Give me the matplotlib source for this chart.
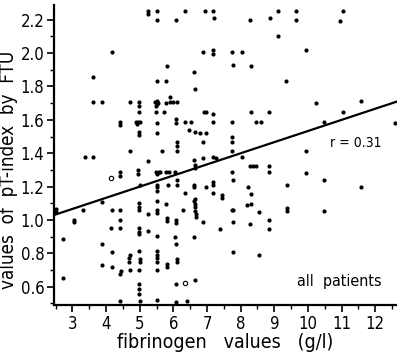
import numpy as np
import matplotlib
matplotlib.use("Agg")
import matplotlib.pyplot as plt
from matplotlib.ticker import MultipleLocator

plt.rcParams["font.family"] = ["DejaVu Sans"]
plt.rcParams["font.stretch"] = "condensed"

# --------------------------------------
# Data (fibrinogen g/l, pT-index)
# --------------------------------------
fib_top = [5.24, 5.24, 5.51, 6.35, 6.93, 7.18, 9.10, 9.65, 11.04,
           5.51, 6.09, 7.20, 8.29, 8.86, 9.65, 10.95]
pti_top = [2.255, 2.235, 2.255, 2.254, 2.254, 2.254, 2.254, 2.254, 2.254,
           2.20, 2.20, 2.21, 2.20, 2.21, 2.20, 2.19]

fib_high = [9.10, 4.18, 6.88, 7.18, 7.18, 7.74, 8.04, 9.95,
            5.81, 7.77, 8.32, 6.62, 3.60, 5.50, 5.79, 9.35, 6.65, 5.89,
            3.60, 3.89, 4.70, 4.97, 4.97, 5.46, 5.52, 5.50, 5.55, 5.48,
            5.79, 5.89, 5.99, 6.12, 10.25, 11.59,
            4.97, 5.49, 5.71, 6.90, 6.97, 7.18, 8.32, 8.84, 11.04,
            6.07, 6.09]
pti_high = [2.10, 2.008, 2.005, 2.02, 1.997, 2.005, 2.005, 2.016,
            1.925, 1.929, 1.925, 1.887, 1.857, 1.835, 1.835, 1.833, 1.785, 1.737,
            1.706, 1.706, 1.706, 1.706, 1.685, 1.71, 1.715, 1.695, 1.70, 1.685,
            1.70, 1.706, 1.706, 1.706, 1.703, 1.713,
            1.645, 1.645, 1.645, 1.645, 1.645, 1.634, 1.645, 1.645, 1.645,
            1.605, 1.582]

fib_mid = [4.42, 4.42, 4.89, 4.95, 4.92, 5.02, 5.51, 6.35, 6.53, 7.18, 7.74,
           8.46, 8.60, 10.48, 12.60,
           4.97, 4.97, 5.51, 6.45, 6.63, 6.80, 6.97, 7.74,
           6.10, 6.10, 6.10, 6.88, 7.75,
           4.72, 5.66, 7.74, 9.95,
           3.36, 3.61, 6.88, 7.18, 7.26, 8.04, 5.26, 6.62,
           6.65, 6.65, 8.27, 8.37, 8.46, 8.84]
pti_mid = [1.59, 1.568, 1.59, 1.59, 1.573, 1.585, 1.582, 1.585, 1.585, 1.585, 1.585,
           1.585, 1.585, 1.585, 1.583,
           1.525, 1.51, 1.52, 1.537, 1.53, 1.52, 1.52, 1.50,
           1.465, 1.445, 1.416, 1.465, 1.468,
           1.416, 1.416, 1.416, 1.414,
           1.378, 1.378, 1.372, 1.378, 1.374, 1.38, 1.351, 1.357,
           1.33, 1.313, 1.322, 1.322, 1.322, 1.322]

fib_low = [4.42, 4.42, 4.95, 4.95, 5.49, 5.52, 5.58, 5.61, 5.79, 5.88, 6.04,
           6.10, 6.10, 5.83, 7.73, 7.77, 8.84, 9.95, 10.48,
           5.00, 5.51, 5.51, 5.51, 6.62, 6.62, 6.96, 7.18, 7.18, 8.22, 9.37, 11.59,
           6.35, 7.18, 8.32, 7.46, 7.46, 6.65,
           3.88, 4.97, 4.97, 4.97, 5.51, 5.79,
           6.62, 6.63, 6.64, 6.65, 6.66, 6.67, 8.18, 8.30,
           2.52, 2.52, 3.31, 4.18, 4.42, 5.24, 5.51, 5.51, 6.30, 7.74, 7.77,
           8.55, 9.37, 9.37, 10.48]
pti_low = [1.29, 1.265, 1.30, 1.275, 1.29, 1.275, 1.285, 1.286, 1.286, 1.286, 1.29,
           1.242, 1.212, 1.212, 1.286, 1.242, 1.286, 1.282, 1.238,
           1.21, 1.212, 1.195, 1.172, 1.212, 1.20, 1.20, 1.23, 1.212, 1.20, 1.21, 1.20,
           1.162, 1.162, 1.158, 1.152, 1.132, 1.126,
           1.11, 1.10, 1.08, 1.062, 1.112, 1.098,
           1.115, 1.095, 1.075, 1.055, 1.035, 1.015, 1.088, 1.097,
           1.065, 1.045, 1.058, 1.062, 1.062, 1.038, 1.062, 1.04, 1.062, 1.062, 1.062,
           1.048, 1.072, 1.052, 1.056]

fib_bottom = [3.05, 3.05, 4.42, 5.81, 5.81, 6.09, 6.09, 6.88, 7.77, 8.27, 8.84,
              4.15, 4.42, 4.97, 4.97, 4.97, 5.26, 7.39, 8.84,
              2.73, 5.51, 6.04, 6.62, 3.88, 6.07,
              4.18, 4.97, 5.51, 7.77, 8.55,
              4.70, 4.69, 4.68, 5.02, 5.02, 5.51, 5.52, 5.52, 5.81, 5.81, 6.12, 6.12,
              3.88, 4.18, 4.45, 4.42, 4.70, 4.97, 5.51,
              2.73, 4.97, 6.09, 6.65, 4.97, 4.97,
              4.42, 5.02, 5.51, 6.09, 6.42]
pti_bottom = [1.002, 0.985, 1.002, 1.01, 0.993, 0.998, 0.98, 0.99, 0.99, 0.978, 0.998,
              0.953, 0.953, 0.95, 0.93, 0.915, 0.932, 0.948, 0.947,
              0.883, 0.902, 0.90, 0.90, 0.853, 0.853,
              0.807, 0.813, 0.813, 0.809, 0.79,
              0.79, 0.77, 0.75, 0.768, 0.748, 0.79, 0.77, 0.75, 0.733, 0.72, 0.766, 0.75,
              0.727, 0.72, 0.695, 0.675, 0.70, 0.70, 0.70,
              0.649, 0.613, 0.613, 0.64, 0.583, 0.553,
              0.517, 0.513, 0.519, 0.507, 0.513]

# open circles
fib_open = [4.15, 6.35]
pti_open = [1.25, 0.62]

# regression line
slope = 0.0667
intercept = 0.866
r_value = 0.31

fib = np.array(fib_top + fib_high + fib_mid + fib_low + fib_bottom)
pti = np.array(pti_top + pti_high + pti_mid + pti_low + pti_bottom)

# --------------------------------------
# Plot
# --------------------------------------
fig = plt.figure(figsize=(3.97, 3.52), dpi=100)
ax = fig.add_axes([0.136, 0.1335, 0.864, 0.853])

ax.scatter(fib, pti, s=9, color="black", linewidths=0, zorder=3)
ax.scatter(fib_open, pti_open, s=10, facecolors="white", edgecolors="black",
           linewidths=0.8, zorder=3)

xl = np.array([2.45, 12.65])
ax.plot(xl, intercept + slope * xl, color="black", linewidth=1.6, zorder=2)

ax.set_xlim(2.45, 12.65)
ax.set_ylim(0.49, 2.29)

ax.xaxis.set_minor_locator(MultipleLocator(0.5))
ax.yaxis.set_minor_locator(MultipleLocator(0.1))
ax.set_xticks(np.arange(3, 13))
ax.set_yticks(np.arange(0.6, 2.21, 0.2))
ax.set_yticklabels([f"{v:.1f}" for v in np.arange(0.6, 2.21, 0.2)])

for s in ("top", "right"):
    ax.spines[s].set_visible(False)
for s in ("left", "bottom"):
    ax.spines[s].set_linewidth(1.6)

ax.tick_params(which="major", length=5, width=1.2, labelsize=12, pad=2)
ax.tick_params(which="minor", length=3, width=1.0)

ax.set_xlabel("fibrinogen   values   (g/l)", fontsize=14, labelpad=0)
ax.set_ylabel("values  of  pT-index  by  FTU", fontsize=13.5)
ax.yaxis.set_label_coords(-0.105, 0.45)

ax.text(10.65, 1.463, f"r = {r_value}", fontsize=10, va="center", ha="left")
ax.text(9.67, 0.63, "all  patients", fontsize=11.5, va="center", ha="left")

fig.savefig("out.png", dpi=100)
